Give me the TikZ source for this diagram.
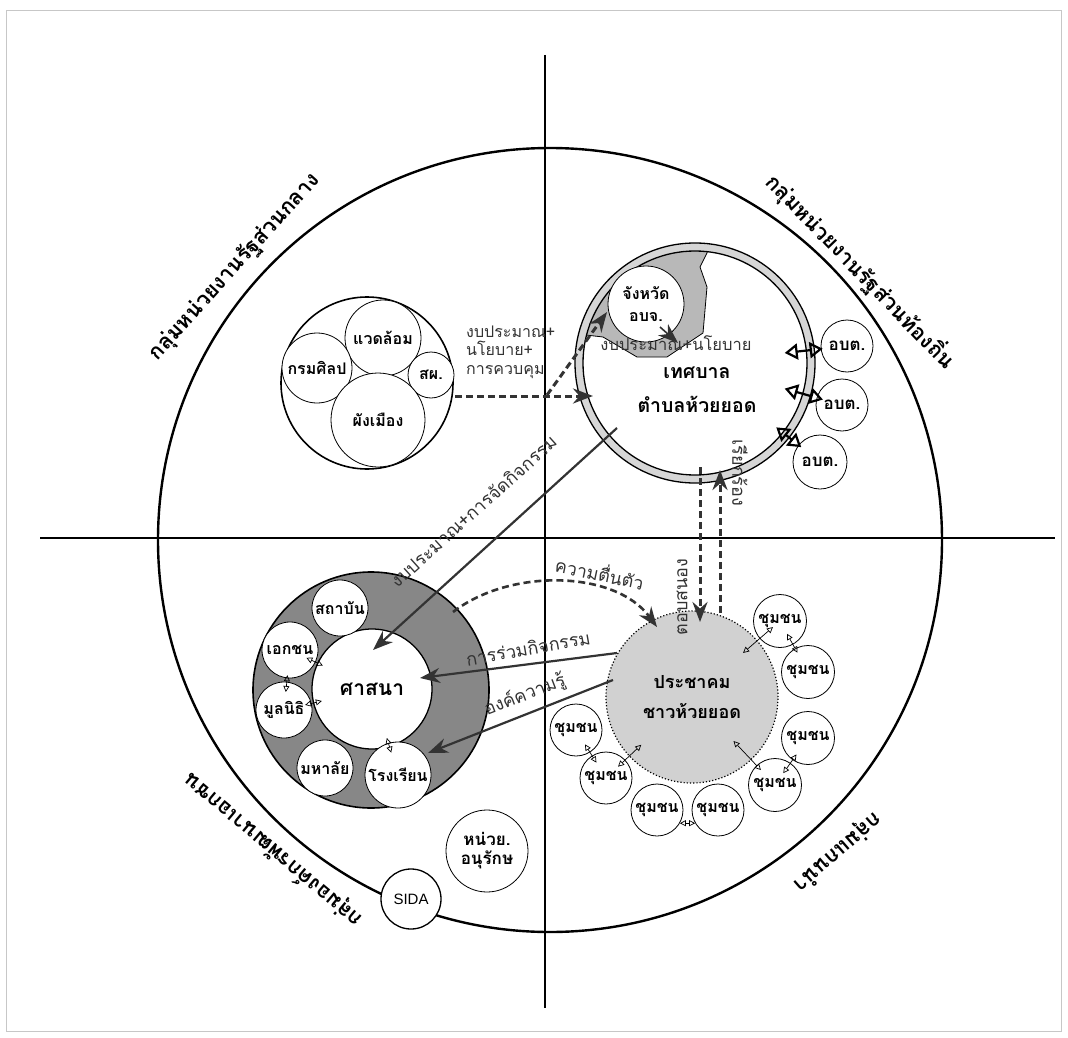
\documentclass[tikz,border=0pt]{standalone}
\usepackage{fontspec}
\setmainfont{Loma}[Script=Thai]
\newfontfamily\latinsans{Liberation Sans}
\usetikzlibrary{arrows.meta, calc}
\definecolor{bandgray}{gray}{0.84}
\definecolor{blobgray}{gray}{0.72}
\definecolor{ringdark}{gray}{0.53}
\definecolor{commgray}{gray}{0.82}
\definecolor{framegray}{gray}{0.78}

\begin{document}
\begin{tikzpicture}[x=1pt, y=-1pt,
    unit/.style={circle, draw, line width=0.8pt, fill=white, inner sep=0pt, align=center, font=\bfseries\fontsize{16}{19}\selectfont},
    grouplbl/.style={font=\bfseries\fontsize{21.5}{24}\selectfont},
    flowlbl/.style={font=\fontsize{18}{20}\selectfont, text=black!80, inner sep=1pt},
    bigarrow/.style={line width=2.2pt, black!80, -{Stealth[length=20pt, width=15pt]}},
    dasharrow/.style={line width=3pt, black!80, dash pattern=on 7pt off 4pt, -{Stealth[length=20pt, width=15pt]}},
    smallarrow/.style={line width=0.7pt, {Triangle[open, length=6pt, width=6pt]}-{Triangle[open, length=6pt, width=6pt]}},
    boldarrow/.style={line width=2.2pt, {Triangle[open, length=13pt, width=16pt]}-{Triangle[open, length=13pt, width=16pt]}}
  ]
  \useasboundingbox (0,0) rectangle (1068,1038);
  % Cornice
  \draw[framegray, line width=1pt] (6,11) rectangle (1061,1031);

  % Cerchio e assi
  \coordinate (O) at (550,540);
  \draw[line width=2.4pt] (O) circle (392);
  \draw[line width=2.4pt] (545,55) -- (545,1008);
  \draw[line width=2.4pt] (40,538) -- (1055,538);

  % Gruppi
  \node[grouplbl, rotate=48] (gcentral) at (235,267) {กลุ่มหน่วยงานรัฐส่วนกลาง};
  \node[grouplbl, rotate=-46] (glocal) at (861,271) {กลุ่มหน่วยงานรัฐส่วนท้องถิ่น};
  \node[grouplbl, rotate=140] (gngo) at (273,850) {กลุ่มองค์กรพัฒนาเอกชน};
  \node[grouplbl, rotate=221] (gleader) at (837,852) {กลุ่มแกนนำ};

  % Rami centrali
  \node[circle, draw, line width=1.6pt, fill=white, minimum size=172pt] (central) at (367,383) {};
  \node[unit, minimum size=76pt] (waedlom) at (383,338) {แวดล้อม};
  \node[unit, minimum size=70pt] (kromsin) at (317,368) {กรมศิลป};
  \node[unit, minimum size=46pt] (sp) at (431,375) {สผ.};
  \node[unit, minimum size=94pt] (pangmueang) at (378,420) {ผังเมือง};
  \node[flowlbl, anchor=west, align=left, font=\fontsize{16}{18.5}\selectfont] (budgetlbl) at (465,352) {งบประมาณ+\\นโยบาย+\\การควบคุม};

  % Religione
  \node[circle, draw, line width=1.6pt, fill=ringdark, minimum size=236pt] (sasanaring) at (371,690) {};
  \node[unit, line width=1.3pt, minimum size=120pt, font=\bfseries\fontsize{21}{24}\selectfont] (sasana) at (372,689) {ศาสนา};
  \node[unit, minimum size=56pt] (sathaban) at (340,608) {สถาบัน};
  \node[unit, minimum size=56pt] (ekkachon) at (290,650) {เอกชน};
  \node[unit, minimum size=56pt] (munlanithi) at (284,710) {มูลนิธิ};
  \node[unit, minimum size=56pt] (mahalai) at (325,768) {มหาลัย};
  \node[unit, minimum size=66pt] (rongrian) at (398,775) {โรงเรียน};

  % Comunita
  \node[circle, draw, dotted, line width=1.2pt, fill=commgray, minimum size=172pt, align=center, font=\bfseries\fontsize{18}{30}\selectfont] (prachakhom) at (692,697) {ประชาคม\\ชาวห้วยยอด};
  \node[unit, minimum size=53pt] (ch1) at (780,621) {ชุมชน};
  \node[unit, minimum size=53pt] (ch2) at (808,672) {ชุมชน};
  \node[unit, minimum size=53pt] (ch3) at (808,738) {ชุมชน};
  \node[unit, minimum size=53pt] (ch4) at (775,785) {ชุมชน};
  \node[unit, minimum size=52pt] (ch5) at (718,810) {ชุมชน};
  \node[unit, minimum size=52pt] (ch6) at (657,810) {ชุมชน};
  \node[unit, minimum size=52pt] (ch7) at (606,778) {ชุมชน};
  \node[unit, minimum size=52pt] (ch8) at (576,730) {ชุมชน};

  % Municipalita
  \node[circle, minimum size=240pt, inner sep=0pt] (tessaban) at (695,363) {};
  \fill[bandgray, even odd rule] (tessaban.center) circle (120) circle (112);
  \begin{scope}
    \clip (tessaban.center) circle (112);
    \fill[blobgray, draw=black, line width=0.8pt] (712,225) -- (560,225) -- (560,332) -- (603,337) -- (637,357) -- (667,357) -- (703,333) -- (707,287) -- (700,267) -- (707,253) -- cycle;
  \end{scope}
  \draw[line width=1.3pt] (tessaban.center) circle (120) circle (112);
  \node[unit, minimum size=76pt, font=\bfseries\fontsize{16}{22}\selectfont] (changwat) at (646,304) {จังหวัด\\อบจ.};
  \node[flowlbl, font=\fontsize{16.5}{19}\selectfont] (policylbl) at (676,343) {งบประมาณ+นโยบาย};
  \node[align=center, font=\bfseries\fontsize{19.5}{34}\selectfont] (tessabanlbl) at (697,390) {เทศบาล\\ตำบลห้วยยอด};
  \node[unit, minimum size=52pt, font=\bfseries\fontsize{17}{19}\selectfont] (obt1) at (847,346) {อบต.};
  \node[unit, minimum size=52pt, font=\bfseries\fontsize{17}{19}\selectfont] (obt2) at (842,405) {อบต.};
  \node[unit, minimum size=54pt, font=\bfseries\fontsize{17}{19}\selectfont] (obt3) at (820,462) {อบต.};

  % Altri
  \node[unit, minimum size=82pt, font=\bfseries\fontsize{17}{19}\selectfont] (anurak) at (487,851) {หน่วย.\\อนุรักษ};
  \node[unit, line width=1.3pt, minimum size=60pt, font=\latinsans\fontsize{15}{18}\selectfont] (sida) at (411,899) {SIDA};

  % Frecce principali
  \draw[bigarrow] ($(tessaban)+(-78,65)$) -- ($(sasana)+(1,-39)$);
  \node[flowlbl, rotate=42] (actlbl) at (473,511) {งบประมาณ+การจัดกิจกรรม};
  \draw[bigarrow] ($(prachakhom)+(-75,-44)$) -- ($(sasana)+(48,-11)$);
  \node[flowlbl, rotate=10] (joinlbl) at (528,648) {การร่วมกิจกรรม};
  \draw[bigarrow] ($(prachakhom)+(-79,-17)$) -- ($(rongrian)+(30,-22)$);
  \node[flowlbl, rotate=21] (knowlbl) at (525,695) {องค์ความรู้};
  \draw[dasharrow, line width=2.6pt] ($(sasanaring)+(82,-78)$) .. controls +(57,-44) and +(-42,-57) .. ($(prachakhom)+(-35,-70)$);
  \node[flowlbl, rotate=-12] (awarelbl) at (600,572) {ความตื่นตัว};
  \draw[dasharrow] ($(central)+(88,13)$) -- ($(tessaban)+(-102,33)$);
  \draw[dasharrow] ($(central)+(180,12)$) -- ($(changwat)+(-39,8)$);
  \draw[bigarrow, line width=1.6pt] ($(changwat)+(14,23)$) -- ($(changwat)+(32,39)$);
  \draw[dasharrow] ($(prachakhom)+(28,-84)$) -- ($(tessaban)+(25,107)$);
  \node[flowlbl, rotate=-90] (demandlbl) at (740,473) {เรียกร้อง};
  \draw[dasharrow] ($(tessaban)+(5,104)$) -- ($(prachakhom)+(8,-75)$);
  \node[flowlbl, rotate=90] (replylbl) at (682,597) {ตอบสนอง};

  % Scambi locali
  \draw[boldarrow] ($(tessaban)!0.59!(obt1)$) -- ($(tessaban)!0.84!(obt1)$);
  \draw[boldarrow] ($(tessaban)!0.61!(obt2)$) -- ($(tessaban)!0.87!(obt2)$);
  \draw[boldarrow] ($(tessaban)!0.65!(obt3)$) -- ($(tessaban)!0.85!(obt3)$);
  \draw[smallarrow] ($(ekkachon)!0.2!(sasana)$) -- ($(ekkachon)!0.4!(sasana)$);
  \draw[smallarrow] ($(ekkachon)!0.42!(munlanithi)$) -- ($(ekkachon)!0.7!(munlanithi)$);
  \draw[smallarrow] ($(munlanithi)!0.24!(sasana)$) -- ($(munlanithi)!0.43!(sasana)$);
  \draw[smallarrow] ($(sasana)!0.57!(rongrian)$) -- ($(sasana)!0.74!(rongrian)$);
  \draw[smallarrow] ($(prachakhom)!0.58!(ch1)$) -- ($(prachakhom)!0.92!(ch1)$);
  \draw[smallarrow] ($(ch1)!0.25!(ch2)$) -- ($(ch1)!0.62!(ch2)$);
  \draw[smallarrow] ($(prachakhom)!0.5!(ch4)$) -- ($(prachakhom)!0.83!(ch4)$);
  \draw[smallarrow] ($(ch3)!0.35!(ch4)$) -- ($(ch3)!0.75!(ch4)$);
  \draw[smallarrow] (ch6.-30) -- (ch5.-150);
  \draw[smallarrow] ($(ch7)!0.14!(prachakhom)$) -- ($(ch7)!0.41!(prachakhom)$);
  \draw[smallarrow] ($(ch8)!0.3!(ch7)$) -- ($(ch8)!0.68!(ch7)$);
\end{tikzpicture}
\end{document}
